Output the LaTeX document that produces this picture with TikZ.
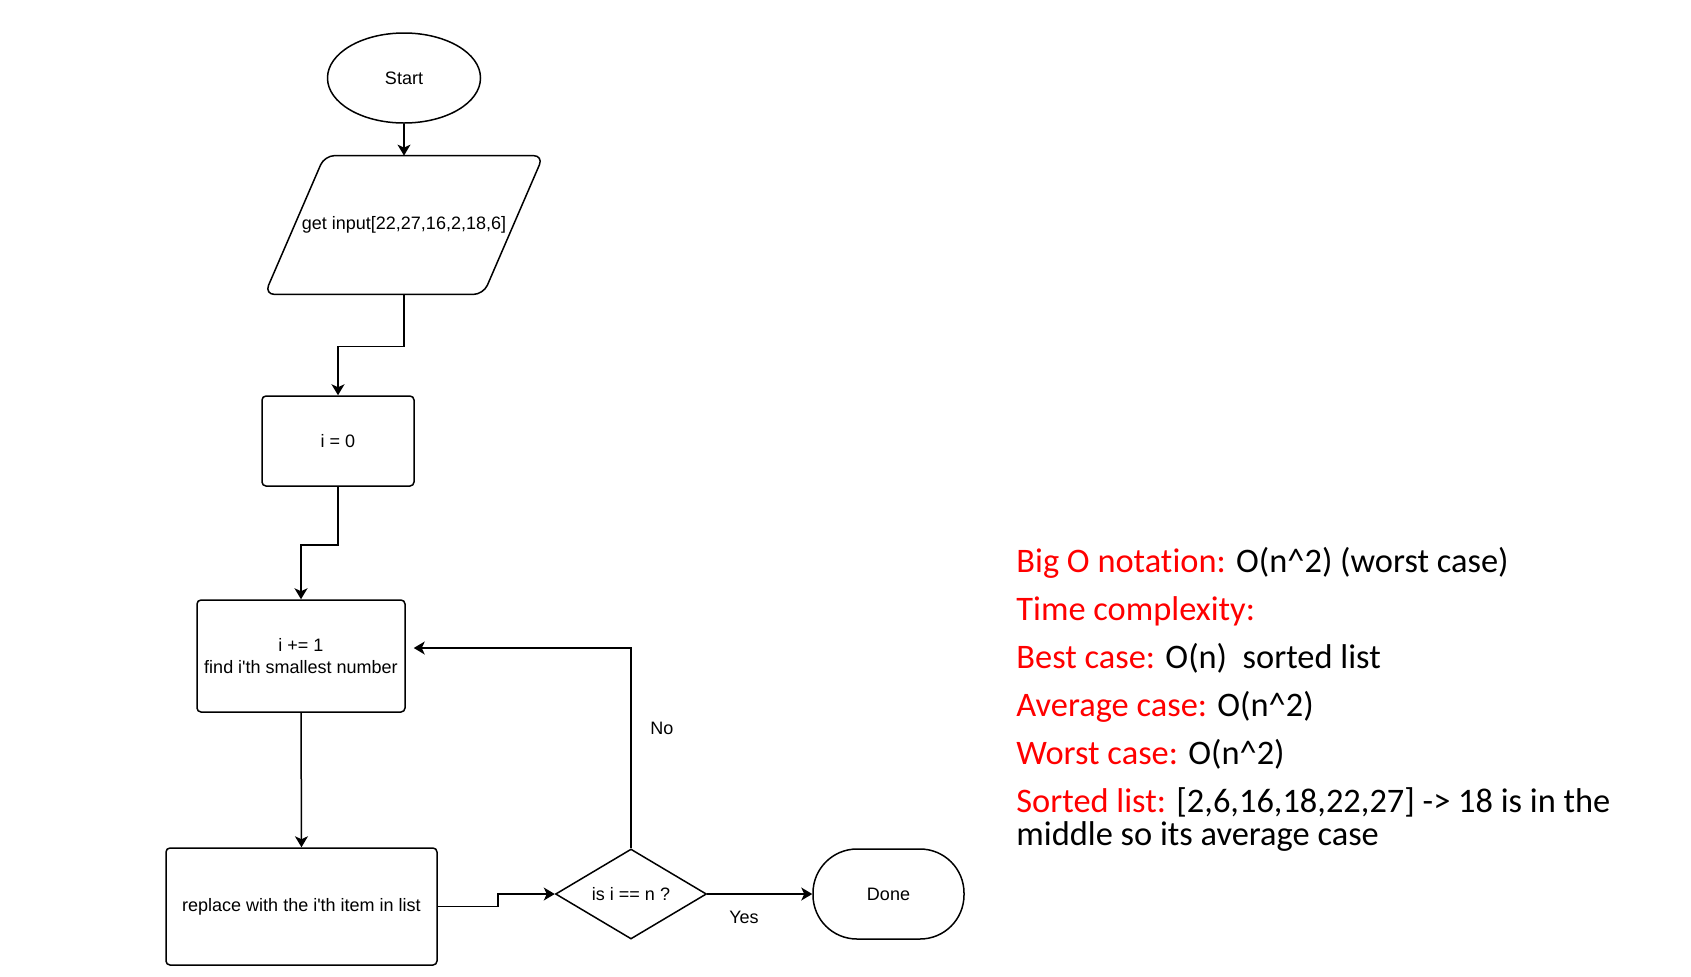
\documentclass[tikz,border=0pt]{standalone}
\usepackage{fontspec}
\setmainfont{Liberation Sans}
\newfontfamily\notefont[Ligatures=NoCommon]{Carlito}
\usetikzlibrary{shapes.geometric,arrows.meta}
\definecolor{notered}{RGB}{255,0,0}
\begin{document}
\begin{tikzpicture}[x=0.5pt,y=-0.5pt,
	every node/.append style={font=\fontsize{9}{11}\selectfont},
	box/.style={draw, line width=0.75pt, rectangle, rounded corners=2pt, inner sep=0pt, align=center},
	flow/.style={draw, line width=0.75pt, -{Stealth[length=5.5pt,width=6.5pt,inset=1.5pt]}},
	note/.style={anchor=base west, inner sep=0pt, font=\notefont\fontsize{17.2}{17}\selectfont}]
	\useasboundingbox (0,0) rectangle (1691,976);
	% flowchart
	\node (start) [draw, line width=0.75pt, ellipse, inner sep=0pt, minimum width=76.5pt, minimum height=45pt] at (404,78) {Start};
	\node (input) [inner sep=0pt, minimum width=139pt, minimum height=69pt] at (404,225) {get input[22,27,16,2,18,6]};
	\draw [line width=0.75pt, rounded corners=5pt] ([xshift=30pt]input.north west) -- (input.north east) -- ([xshift=-30pt]input.south east) -- (input.south west) -- cycle;
	\node (init) [box, minimum width=76pt, minimum height=45pt] at (338,441) {i = 0};
	\node (find) [box, minimum width=104pt, minimum height=56pt] at (301,656) {i += 1\\find i\textquotesingle th smallest number};
	\node (replace) [box, minimum width=135.5pt, minimum height=58.5pt] at (301.5,906.5) {replace with the i\textquotesingle th item in list};
	\node (check) [draw, line width=0.75pt, diamond, aspect=1.7, inner sep=0pt, minimum width=75.5pt, minimum height=45pt] at (631,894) {is i == n ?};
	\node (done) [draw, line width=0.75pt, rectangle, rounded corners=22pt, minimum width=75.5pt, minimum height=45pt] at (888.5,894) {Done};
	\draw[flow] (start.south) -- (input.north);
	\draw[flow] (input.south) -- ++(0,52) -| (init.north);
	\draw[flow] (init.south) -- ++(0,58) -| (find.north);
	\draw[flow] (find.south) -- (replace.north);
	\draw[flow] (replace.east) -- ++(60,0) |- (check.west);
	\draw[flow] (check.north) |- ([xshift=4pt,yshift=4pt]find.east) node[pos=0.3, right=6pt] {No};
	\draw[flow] (check.east) -- (done.west) node[pos=0.35, below=5pt] {Yes};
	% notes
	\node (bigo) [note] at (1016,572) {{\color{notered}Big O notation:} O(n\textasciicircum 2) (worst case)};
	\node (timec) [note] at (1016,620) {\color{notered}Time complexity:};
	\node (best) [note] at (1016,668) {{\color{notered}Best case:} O(n)~ sorted list};
	\node (avg) [note] at (1016,716) {{\color{notered}Average case:} O(n\textasciicircum 2)};
	\node (worst) [note] at (1016,764) {{\color{notered}Worst case:} O(n\textasciicircum 2)};
	\node (sorted) [note] at (1016,812) {{\color{notered}Sorted list:} [2,6,16,18,22,27] -> 18 is in the};
	\node (sortedwrap) [note] at (1016,845) {middle so its average case};
\end{tikzpicture}
\end{document}
